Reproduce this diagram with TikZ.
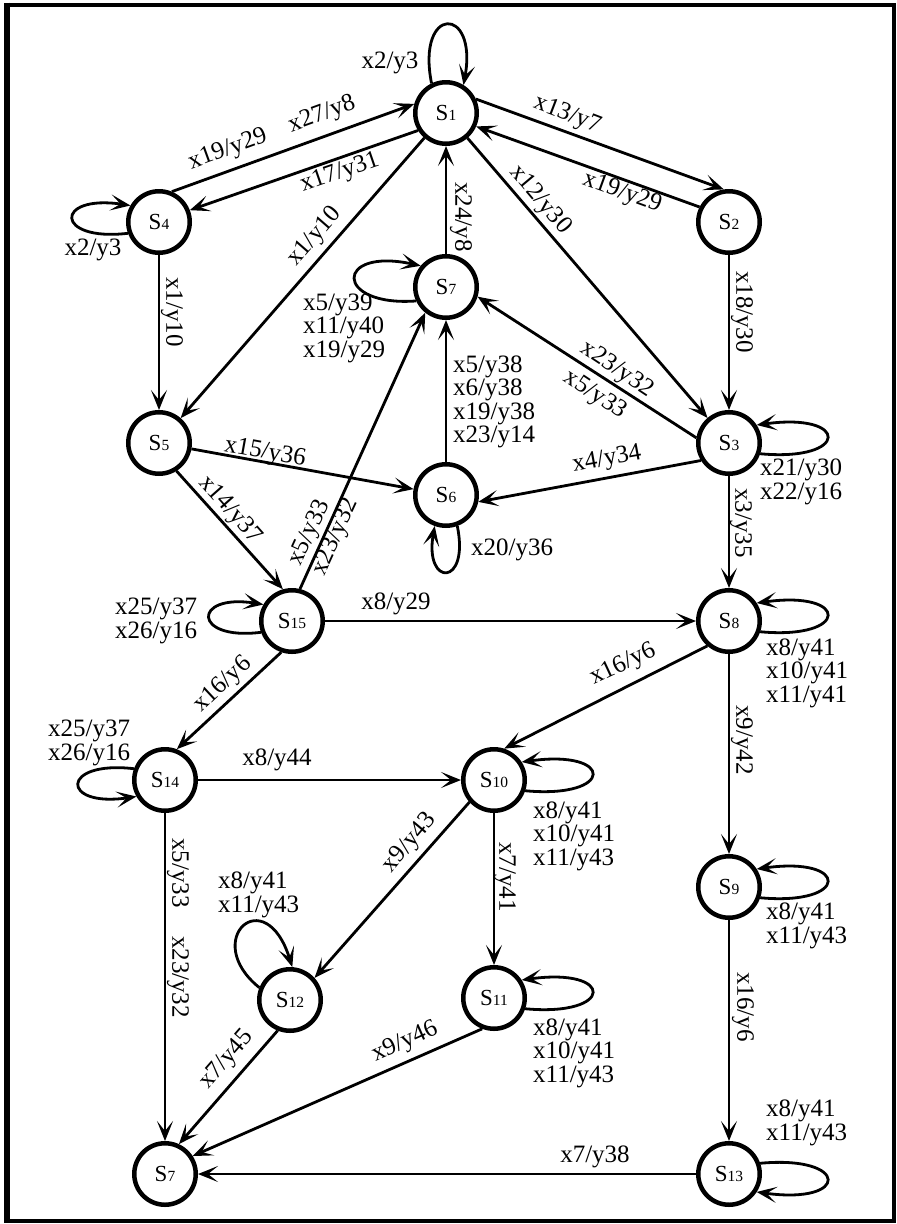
\documentclass[tikz,border=0pt]{standalone}
\usepackage{fontspec}
\setmainfont{Liberation Serif}
\usetikzlibrary{arrows.meta,calc}
\newcommand\labfont{\fontsize{25}{23.5}\selectfont}
\newcommand\stname[1]{\fontsize{23}{23}\selectfont S{\fontsize{15.5}{15.5}\selectfont #1}}
\tikzset{
  state/.style={circle, draw, line width=4.5pt, minimum size=61.5pt, inner sep=0pt},
  edge/.style={line width=2.8pt, -{Stealth[length=20pt,width=16pt,inset=10pt]}},
  lab/.style={font=\labfont, inner sep=0pt},
}
\begin{document}
\begin{tikzpicture}[x=1pt,y=-1pt]
\useasboundingbox (0,0) rectangle (897,1224);
\draw[line width=4pt] (6.5,4.5) rectangle (894,1221);
\draw[line width=6pt] (6.5,2.5) -- (6.5,1223);

% states
\node[state] (s1) at (446,113) {\stname{1}};
\node[state] (s2) at (729,222) {\stname{2}};
\node[state] (s4) at (159,222) {\stname{4}};
\node[state] (s7) at (446,287) {\stname{7}};
\node[state] (s5) at (159,443) {\stname{5}};
\node[state] (s3) at (729,443) {\stname{3}};
\node[state] (s6) at (446,495) {\stname{6}};
\node[state] (s15) at (292,621) {\stname{15}};
\node[state] (s8) at (729,621) {\stname{8}};
\node[state] (s14) at (165,780) {\stname{14}};
\node[state] (s10) at (494,780) {\stname{10}};
\node[state] (s9) at (729,887) {\stname{9}};
\node[state] (s12) at (290,1000) {\stname{12}};
\node[state] (s11) at (494,998) {\stname{11}};
\node[state] (s7b) at (165,1174) {\stname{7}};
\node[state] (s13) at (729,1174) {\stname{13}};

% connectors
\draw[edge] (s4.67) -- (s1.164);
\draw[edge] (s1.212) -- (s4.21);
\draw[edge] (s1.25) -- (s2.99);
\draw[edge] (s2.153) -- (s1.336);
\draw[edge] (s1) -- (s5);
\draw[edge] (s4) -- (s5);
\draw[edge] (s7) -- (s1);
\draw[edge] (s1) -- (s3);
\draw[edge] (s2) -- (s3);
\draw[edge] (s3.171) -- (s7.343);
\draw[edge] (s3.212) -- (s6.348);
\draw[edge] (s3) -- (s8);
\draw[edge] (s6) -- (s7);
\draw[edge] (s5) -- (s6);
\draw[edge] (s5.302) -- (s15.106);
\draw[edge] (s15.76) -- (s7.231);
\draw[edge] (s15) -- (s8);
\draw[edge] (s15.251) -- (s14.69);
\draw[edge] (s14) -- (s10);
\draw[edge] (s8.229) -- (s10.72);
\draw[edge] (s8) -- (s9);
\draw[edge] (s10.222) -- (s12.42);
\draw[edge] (s10) -- (s11);
\draw[edge] (s14) -- (s7b);
\draw[edge] (s12.248) -- (s7b.65);
\draw[edge] (s11.249) -- (s7b.33);
\draw[edge] (s9) -- (s13);
\draw[edge] (s13) -- (s7b);

% self loops
\draw[edge] (s1.116) .. controls ($(s1)+(-30,-108)$) and ($(s1)+(32,-108)$) .. (s1.58);
\draw[edge] (s4.200) .. controls ($(s4)+(-105,20)$) and ($(s4)+(-105,-28)$) .. (s4.150);
\draw[edge] (s7.205) .. controls ($(s7)+(-112,20)$) and ($(s7)+(-112,-40)$) .. (s7.140);
\draw[edge] (s3.-19) .. controls ($(s3)+(121,19)$) and ($(s3)+(121,-31)$) .. (s3.33);
\draw[edge] (s8.-19) .. controls ($(s8)+(121,19)$) and ($(s8)+(121,-31)$) .. (s8.33);
\draw[edge] (s9.-19) .. controls ($(s9)+(121,19)$) and ($(s9)+(121,-31)$) .. (s9.33);
\draw[edge] (s10.-19) .. controls ($(s10)+(121,19)$) and ($(s10)+(121,-31)$) .. (s10.33);
\draw[edge] (s11.-19) .. controls ($(s11)+(121,19)$) and ($(s11)+(121,-31)$) .. (s11.33);
\draw[edge] (s13.19) .. controls ($(s13)+(121,-19)$) and ($(s13)+(121,31)$) .. (s13.-33);
\draw[edge] (s15.200) .. controls ($(s15)+(-100,20)$) and ($(s15)+(-100,-28)$) .. (s15.150);
\draw[edge] (s14.160) .. controls ($(s14)+(-105,-20)$) and ($(s14)+(-105,28)$) .. (s14.210);
\draw[edge] (s6.-70) .. controls ($(s6)+(24,92)$) and ($(s6)+(-22,92)$) .. (s6.-110);
\draw[edge] (s12.158) .. controls ($(s12)+(-90,-60)$) and ($(s12)+(-25,-120)$) .. (s12.86);

% labels
\node[lab, rotate=20] (l1) at (228,150) {x19/y29};
\node[lab, rotate=20] (l2) at (322,115) {x27/y8};
\node[lab, rotate=19] (l3) at (340,173) {x17/y31};
\node[lab] (l4) at (390,63) {x2/y3};
\node[lab] (l5) at (93,250) {x2/y3};
\node[lab, rotate=-21] (l6) at (567,115) {x13/y7};
\node[lab, rotate=-20] (l7) at (622,193) {x19/y29};
\node[lab, rotate=49] (l8) at (315,237) {x1/y10};
\node[lab, rotate=-50] (l9) at (540,200) {x12/y30};
\node[lab, rotate=-90] (l10) at (172,312) {x1/y10};
\node[lab, rotate=-90] (l11) at (461,217) {x24/y8};
\node[lab, rotate=-90] (l12) at (742,312) {x18/y30};
\node[lab, align=left, anchor=west] (l13) at (303,328) {x5/y39\\x11/y40\\x19/y29};
\node[lab, align=left, anchor=west] (l14) at (453,402) {x5/y38\\x6/y38\\x19/y38\\x23/y14};
\node[lab, rotate=-33.6] (l15) at (617,370) {x23/y32};
\node[lab, rotate=-33.6] (l16) at (595,395) {x5/y33};
\node[lab, rotate=10.4] (l17) at (607,460) {x4/y34};
\node[lab, align=left, anchor=west] (l18) at (760,482) {x21/y30\\x22/y16};
\node[lab, rotate=-90] (l19) at (741,523) {x3/y35};
\node[lab, rotate=-10.2] (l20) at (265,453) {x15/y36};
\node[lab, rotate=-48.5] (l21) at (230,510) {x14/y37};
\node[lab, rotate=65.4] (l22) at (310,533) {x5/y33};
\node[lab, rotate=65.4] (l23) at (336,537) {x23/y32};
\node[lab, anchor=west] (l24) at (471,550) {x20/y36};
\node[lab] (l25) at (396,604) {x8/y29};
\node[lab, align=left, anchor=west] (l26) at (115,621) {x25/y37\\x26/y16};
\node[lab, rotate=43] (l27) at (223,685) {x16/y6};
\node[lab, align=left, anchor=west] (l28) at (766,673) {x8/y41\\x10/y41\\x11/y41};
\node[lab, rotate=25] (l29) at (623,665) {x16/y6};
\node[lab, align=left, anchor=west] (l30) at (48,743) {x25/y37\\x26/y16};
\node[lab] (l31) at (277,760) {x8/y44};
\node[lab, rotate=-90] (l32) at (742,740) {x9/y42};
\node[lab, align=left, anchor=west] (l33) at (533,836) {x8/y41\\x10/y41\\x11/y43};
\node[lab, rotate=50] (l34) at (410,843) {x9/y43};
\node[lab, rotate=-90] (l35) at (505,877) {x7/y41};
\node[lab, rotate=-90] (l36) at (178,873) {x5/y33};
\node[lab, rotate=-90] (l37) at (178,977) {x23/y32};
\node[lab, align=left, anchor=west] (l38) at (218,895) {x8/y41\\x11/y43};
\node[lab, align=left, anchor=west] (l39) at (766,926) {x8/y41\\x11/y43};
\node[lab, rotate=-90] (l40) at (743,1007) {x16/y6};
\node[lab, align=left, anchor=west] (l41) at (533,1053) {x8/y41\\x10/y41\\x11/y43};
\node[lab, rotate=49] (l42) at (227,1060) {x7/y45};
\node[lab, rotate=24] (l43) at (405,1042) {x9/y46};
\node[lab, align=left, anchor=west] (l44) at (766,1123) {x8/y41\\x11/y43};
\node[lab] (l45) at (595,1157) {x7/y38};
\end{tikzpicture}
\end{document}
